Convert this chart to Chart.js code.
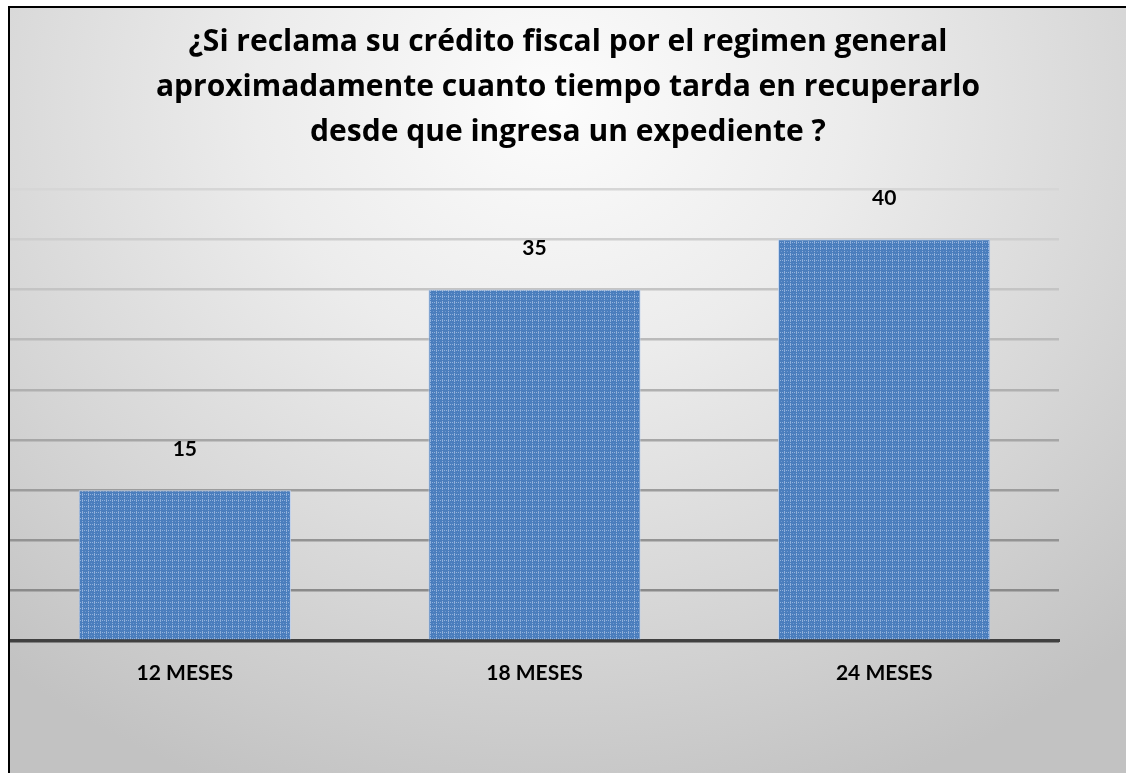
<!DOCTYPE html>
<html>
<head>
<meta charset="utf-8">
<script src="https://cdn.jsdelivr.net/npm/chart.js@4.4.1/dist/chart.umd.min.js"></script>
<style>
  html, body { margin: 0; padding: 0; overflow: hidden; width: 1126px; height: 773px; background: #fff; }
  #frame {
    position: absolute; left: 8px; top: 6px; width: 1130px; height: 780px;
    border-left: 2px solid #000; border-top: 2px solid #000;
    background: radial-gradient(ellipse 75% 95% at 48% 12%, #fcfcfc 0%, #ececec 35%, #d6d6d6 70%, #c2c2c2 100%);
  }
  #wrap { position: absolute; left: 0px; top: 0px; width: 1116px; height: 765px; }
</style>
</head>
<body>
<div id="frame"><div id="wrap"><canvas id="chart1"></canvas></div></div>
<script>
    let categories = ['12 MESES', '18 MESES', '24 MESES'];
    let counts = [15, 35, 40];
    let titleLines = [
        '¿Si reclama su crédito fiscal por el regimen general',
        'aproximadamente cuanto tiempo tarda en recuperarlo',
        'desde que ingresa un expediente ?'
    ];

    // dotted blue fill like the original bars
    function makePattern() {
        let c = document.createElement('canvas');
        c.width = 6; c.height = 6;
        let g = c.getContext('2d');
        g.fillStyle = '#4b7ebd';
        g.fillRect(0, 0, 6, 6);
        g.fillStyle = 'rgba(170,195,230,0.75)';
        for (let i = 0; i < 6; i += 2) {
            g.fillRect(i, 0, 1, 1);
            g.fillRect(0, i + 1, 1, 1);
        }
        g.fillStyle = 'rgba(130,165,215,0.6)';
        g.fillRect(3, 3, 1, 1);
        return g.createPattern(c, 'repeat');
    }

    // title centred on the whole canvas, not on the plot
    let canvasTitle = {
        id: 'canvasTitle',
        afterDraw(chart) {
            let ctx = chart.ctx;
            ctx.save();
            ctx.font = "bold 30px 'Open Sans'";
            ctx.fillStyle = '#000';
            ctx.textAlign = 'center';
            ctx.textBaseline = 'middle';
            titleLines.forEach(function(line, i) {
                ctx.fillText(line, chart.width / 2, 34 + i * 45);
            });
            ctx.restore();
        }
    };

    let barLabels = {
        id: 'barLabels',
        afterDatasetsDraw(chart) {
            let ctx = chart.ctx;
            let meta = chart.getDatasetMeta(0);
            ctx.save();
            ctx.font = 'bold 21px Lato';
            ctx.fillStyle = '#000';
            ctx.textAlign = 'center';
            ctx.textBaseline = 'middle';
            meta.data.forEach(function(bar, i) {
                ctx.fillText(counts[i], bar.x, bar.y - 41);
            });
            ctx.restore();
        }
    };

    let chart1 = document.getElementById('chart1').getContext('2d');

    let mesesChart = new Chart(chart1, {
    type:'bar',
    data:{
    labels:categories,
    datasets:[{
    data:counts,
    backgroundColor:makePattern(),
    borderColor:'rgba(190,210,240,0.9)',
    borderWidth:1,
    categoryPercentage:1,
    barPercentage:0.607
}]
},
    options:{
    responsive:true,
    maintainAspectRatio:false,
    animation:false,
    plugins:{
    title:{display:false},
    legend:{display:false},
    tooltip:{enabled:false}
},
    layout:{
    padding:{
    left:0,
    right:67,
    bottom:67,
    top:181
}
},
    scales:{
    x:{
    grid:{display:false, drawTicks:false},
    border:{display:true, color:'#404040', width:3},
    ticks:{
    color:'#000',
    padding:20,
    font:{family:"Lato", size:21, weight:'bold'}
}
},
    y:{
    min:0,
    max:45,
    ticks:{display:false, stepSize:5},
    border:{display:false},
    grid:{
    drawTicks:false,
    lineWidth:2.5,
    color:function(c) {
        let shades = ['#404040', '#8a8a8a', '#939393', '#9c9c9c', '#a6a6a6', '#b0b0b0', '#bababa', '#c4c4c4', '#cecece', '#d6d6d6'];
        return shades[c.index] || '#d6d6d6';
    }
}
}
}
},
    plugins:[barLabels, canvasTitle]
});
</script>
</body>
</html>
